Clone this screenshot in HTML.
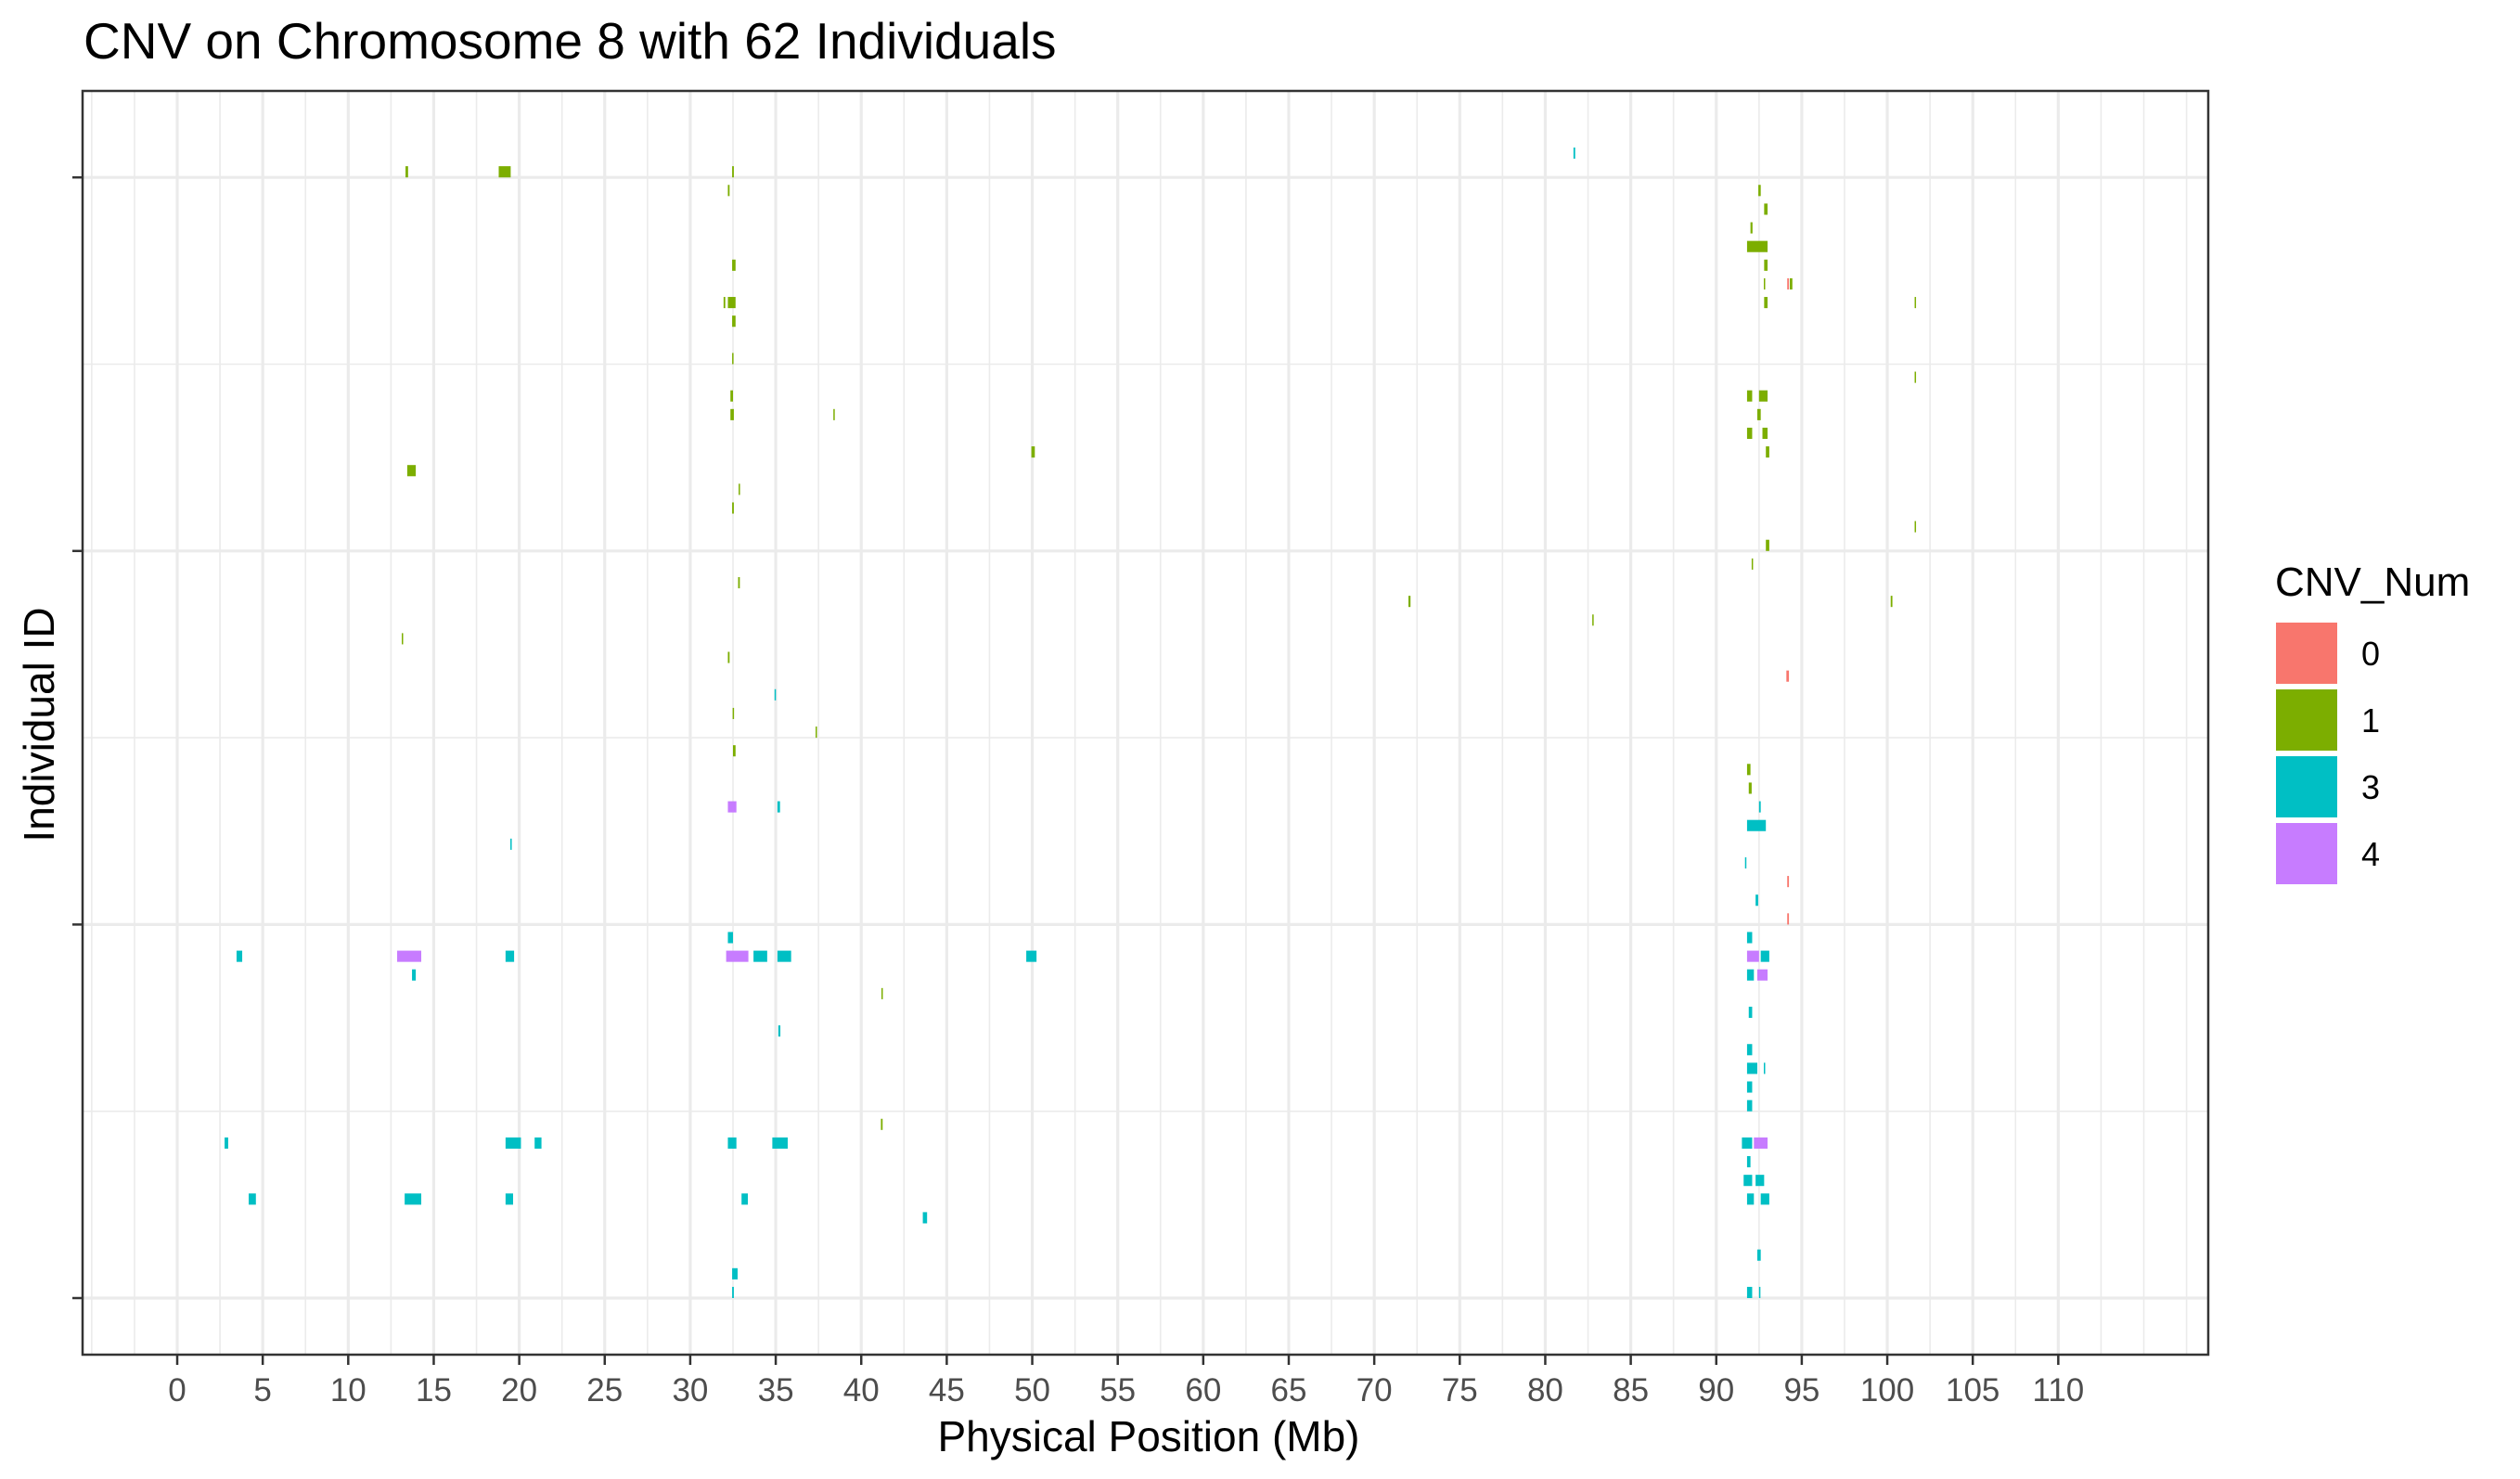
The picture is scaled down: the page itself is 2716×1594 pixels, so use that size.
<!DOCTYPE html>
<html><head><meta charset="utf-8"><style>
html,body{margin:0;padding:0;background:#fff;}
svg{display:block;font-family:"Liberation Sans",Arial,sans-serif;}
</style></head><body>
<svg id="chart" width="2716" height="1594" viewBox="0 0 2716 1594" xmlns="http://www.w3.org/2000/svg">
<rect x="0" y="0" width="2716" height="1594" fill="#fff"/>
<text x="90" y="63" font-size="55" fill="#000">CNV on Chromosome 8 with 62 Individuals</text>
<g id="grid"></g>
<g id="marks"></g>
<rect x="89" y="98" width="2291" height="1362" fill="none" stroke="#333" stroke-width="2.5"/>
<g id="axes"></g>
<text x="1238" y="1564" font-size="46" text-anchor="middle" fill="#000">Physical Position (Mb)</text>
<text x="58" y="781" font-size="46" text-anchor="middle" fill="#000" transform="rotate(-90 58 781)">Individual ID</text>
<g>
<text x="2452" y="642" font-size="44" fill="#000">CNV_Num</text>
<rect x="2453" y="671" width="66" height="66" fill="#F8766D"/>
<text x="2545" y="717" font-size="36" fill="#000">0</text>
<rect x="2453" y="743" width="66" height="66" fill="#7CAE00"/>
<text x="2545" y="789" font-size="36" fill="#000">1</text>
<rect x="2453" y="815" width="66" height="66" fill="#00BFC4"/>
<text x="2545" y="861" font-size="36" fill="#000">3</text>
<rect x="2453" y="887" width="66" height="66" fill="#C77CFF"/>
<text x="2545" y="933" font-size="36" fill="#000">4</text>
</g>
</svg>
<script>
const rows = [62,61,61,61,60,60,59,58,57,56,56,55,55,55,54,54,54,54,53,51,50,49,49,49,48,48,48,47,47,46,46,45,44,43,42,41,40,39,38,38,37,36,35,34,33,32,31,30,29,28,27,27,27,26,25,24,23,22,21,20,20,19,19,19,19,19,19,19,19,19,18,18,18,17,16,15,14,13,13,12,11,10,9,9,9,9,9,9,9,8,7,7,6,6,6,6,6,6,5,3,2,1,1,1];
const starts = [81.65,13.35,18.8,32.45,32.2,92.46,92.8,92.0,91.8,92.8,32.45,92.78,94.15,94.3,31.95,32.2,92.8,101.6,32.45,32.45,101.6,32.35,91.8,92.5,32.35,38.37,92.4,91.8,92.7,49.95,92.9,13.45,32.83,32.45,101.6,92.9,92.07,32.8,72.0,100.2,82.75,13.13,32.2,94.1,34.93,32.48,37.33,32.5,91.8,91.9,32.2,35.1,92.5,91.8,19.48,91.68,94.15,92.3,94.15,32.2,91.8,3.47,12.86,19.2,32.1,33.7,35.1,49.65,91.8,92.6,13.73,91.8,92.4,41.18,91.9,35.15,91.8,91.8,92.78,91.8,91.8,41.15,2.77,19.2,20.9,32.2,34.8,91.5,92.2,91.8,91.6,92.3,4.18,13.3,19.2,33.0,91.8,92.6,43.6,92.4,32.45,32.45,91.8,92.5];
const ends = [81.75,13.5,19.5,32.55,32.3,92.6,93.0,92.12,93.0,93.0,32.65,92.84,94.25,94.45,32.05,32.65,93.0,101.66,32.65,32.5,101.66,32.5,92.1,93.0,32.55,38.43,92.6,92.1,93.0,50.15,93.1,13.95,32.88,32.55,101.66,93.1,92.13,32.9,72.12,100.3,82.8,13.18,32.3,94.25,34.98,32.53,37.38,32.65,92.0,92.07,32.7,35.25,92.6,92.9,19.53,91.73,94.25,92.45,94.25,32.5,92.1,3.8,14.27,19.7,33.4,34.5,35.9,50.25,92.5,93.1,13.95,92.2,93.0,41.23,92.1,35.27,92.1,92.4,92.83,92.1,92.1,41.25,2.98,20.1,21.3,32.7,35.7,92.1,93.0,92.0,92.1,92.8,4.6,14.27,19.64,33.37,92.2,93.1,43.85,92.6,32.77,32.55,92.1,92.55];
const cnv = [3,1,1,1,1,1,1,1,1,1,1,1,0,1,1,1,1,1,1,1,1,1,1,1,1,1,1,1,1,1,1,1,1,1,1,1,1,1,1,1,1,1,1,0,3,1,1,1,1,1,4,3,3,3,3,3,0,3,0,3,3,3,4,3,4,3,3,3,4,3,3,3,4,1,3,3,3,3,3,3,3,1,3,3,3,3,3,3,4,3,3,3,3,3,3,3,3,3,3,3,3,3,3,3];
const xTicks = [0,5,10,15,20,25,30,35,40,45,50,55,60,65,70,75,80,85,90,95,100,105,110];
const yTicks = [1,21,41,61];
const colors = {0:"#F8766D",1:"#7CAE00",3:"#00BFC4",4:"#C77CFF"};
const NS="http://www.w3.org/2000/svg";
const X0=-5.535, X1=118.77, PL=89, PR=2380;
const Y0=-2.03, Y1=65.63, PB=1460, PT=98;
function xs(v){return PL+(v-X0)/(X1-X0)*(PR-PL);}
function ys(v){return PB-(v-Y0)/(Y1-Y0)*(PB-PT);}
function mk(tag,attrs,parent){const e=document.createElementNS(NS,tag);for(const k in attrs)e.setAttribute(k,attrs[k]);parent.appendChild(e);return e;}
const grid=document.getElementById('grid');
mk('rect',{x:PL,y:PT,width:PR-PL,height:PB-PT,fill:'#fff'},grid);
for(let v=-5;v<=117.5;v+=2.5){
  const major = xTicks.includes(v);
  const l=mk('line',{x1:xs(v),x2:xs(v),y1:PT,y2:PB,stroke:'#EBEBEB','stroke-width':major?3.2:1.6},grid);
  
  
}
for(let i=0;i<yTicks.length;i++){
  const v=yTicks[i];
  const l=mk('line',{x1:PL,x2:PR,y1:ys(v),y2:ys(v),stroke:'#EBEBEB','stroke-width':3.2},grid);
  
  
  if(i<yTicks.length-1){
    const m=(v+yTicks[i+1])/2;
    const l2=mk('line',{x1:PL,x2:PR,y1:ys(m),y2:ys(m),stroke:'#EBEBEB','stroke-width':1.6},grid);
    
    
  }
}
const marks=document.getElementById('marks');
for(let i=0;i<rows.length;i++){
  const x1=xs(starts[i]), x2=xs(ends[i]);
  const yb=ys(rows[i]), yt=ys(rows[i]+0.6);
  const r=mk('rect',{x:x1,y:yt,width:Math.max(1.5,x2-x1),height:yb-yt,fill:colors[cnv[i]]},marks);
  
  
}
const axes=document.getElementById('axes');
for(const v of xTicks){
  const t=mk('line',{x1:xs(v),x2:xs(v),y1:PB,y2:PB+11,stroke:'#333','stroke-width':2.5},axes);
  
  
  const tx=mk('text',{x:xs(v),y:1510,'font-size':35,'text-anchor':'middle',fill:'#4D4D4D'},axes);
  tx.textContent=v;
  
  
}
for(const v of yTicks){
  const t=mk('line',{x1:PL-11,x2:PL,y1:ys(v),y2:ys(v),stroke:'#333','stroke-width':2.5},axes);
  
  
}
</script>
</body></html>
